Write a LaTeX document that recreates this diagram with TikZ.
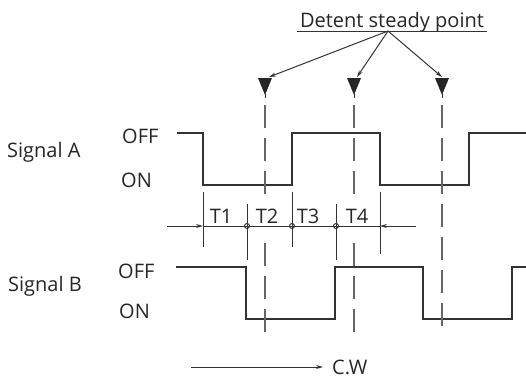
\documentclass[tikz,border=0pt]{standalone}
\usepackage{fontspec}
\setmainfont{Open Sans}
\usetikzlibrary{arrows.meta}

\begin{document}
\begin{tikzpicture}[line cap=butt,line join=miter,>={Stealth[length=7pt,width=4pt]},x=1pt,y=-1pt,
        wave/.style={line width=1.8pt,color=black!80},
        guide/.style={line width=1.2pt,color=black!60,dash pattern=on 23pt off 10pt},
        tickline/.style={line width=1pt,color=black!80},
        lbl/.style={inner sep=0pt,anchor=base west,font=\fontsize{20}{24}\selectfont,color=black!85}]
            \useasboundingbox (0,0) rectangle (526,378);

            % signal names and levels
            \node [lbl] (siga) at (7,157) {Signal A};
            \node [lbl] (aoff) at (122,143) {OFF};
            \node [lbl] (aon) at (121,187) {ON};
            \node [lbl] (sigb) at (8,291) {Signal B};
            \node [lbl] (boff) at (118,278) {OFF};
            \node [lbl] (bon) at (119,318) {ON};

            % signal A
            \draw [wave] (177,133) -- (203,133) -- (203,185) -- (292,185) -- (292,133) -- (380,133) -- (380,185) -- (469,185) -- (469,133) -- (526,133);
            % signal B
            \draw [wave] (176,267) -- (246,267) -- (246,319) -- (335,319) -- (335,267) -- (423,267) -- (423,319) -- (512,319) -- (512,267) -- (526,267);

            % detent steady points
            \node [lbl,anchor=base] (detent) at (392,27) {Detent steady point};
            \coordinate (ulw) at (297,31);
            \coordinate (ule) at (487,31);
            \coordinate (hub) at (388,31);
            \draw [tickline] (ulw) -- (ule);
            \foreach \x/\n/\d in {265/1/4,354/2/3,442/3/0} {
                \fill [black!85] (\x-7,78) -- (\x+7,78) -- (\x,95) -- cycle;
                \draw [tickline] (\x,94) -- (\x,98);
                \coordinate (dp\n) at (\x+\d,77);
            }
            \foreach \x in {265,354} {
                \draw [guide] (\x,105) -- (\x,194);
                \draw [guide] (\x,243) -- (\x,335);
            }
            \draw [guide] (442,105) -- (442,335);
            \draw [->,tickline] (hub) -- (dp1);
            \draw [->,tickline] (hub) -- (dp2);
            \draw [->,tickline] (hub) -- (dp3);

            % phase marks
            \foreach \x/\e in {203/247,292/247,380/254} \draw [tickline] (\x,192) -- (\x,\e);
            \foreach \x in {247,336} \draw [tickline] (\x,204) -- (\x,260);
            \coordinate (dl) at (167,226);
            \coordinate (dr) at (416,226);
            \coordinate (t0) at (203,226);
            \coordinate (t4) at (380,226);
            \draw [->,tickline] (dl) -- (t0);
            \draw [->,tickline] (dr) -- (t4);
            \draw [tickline] (t0) -- (t4);
            \foreach \x in {247,292,336} \draw [tickline] (\x,226) circle (2.5);
            \node [lbl,anchor=base] (t1) at (221,223) {T1};
            \node [lbl,anchor=base] (t2) at (267,223) {T2};
            \node [lbl,anchor=base] (t3) at (308,223) {T3};
            \node [lbl,anchor=base] (t4l) at (357,223) {T4};

            % rotation
            \node [lbl] (cw) at (332,374) {C.W};
            \coordinate (cws) at (191,367);
            \draw [->,tickline,shorten >=9pt] (cws) -- (cws -| cw.west);
\end{tikzpicture}
\end{document}
